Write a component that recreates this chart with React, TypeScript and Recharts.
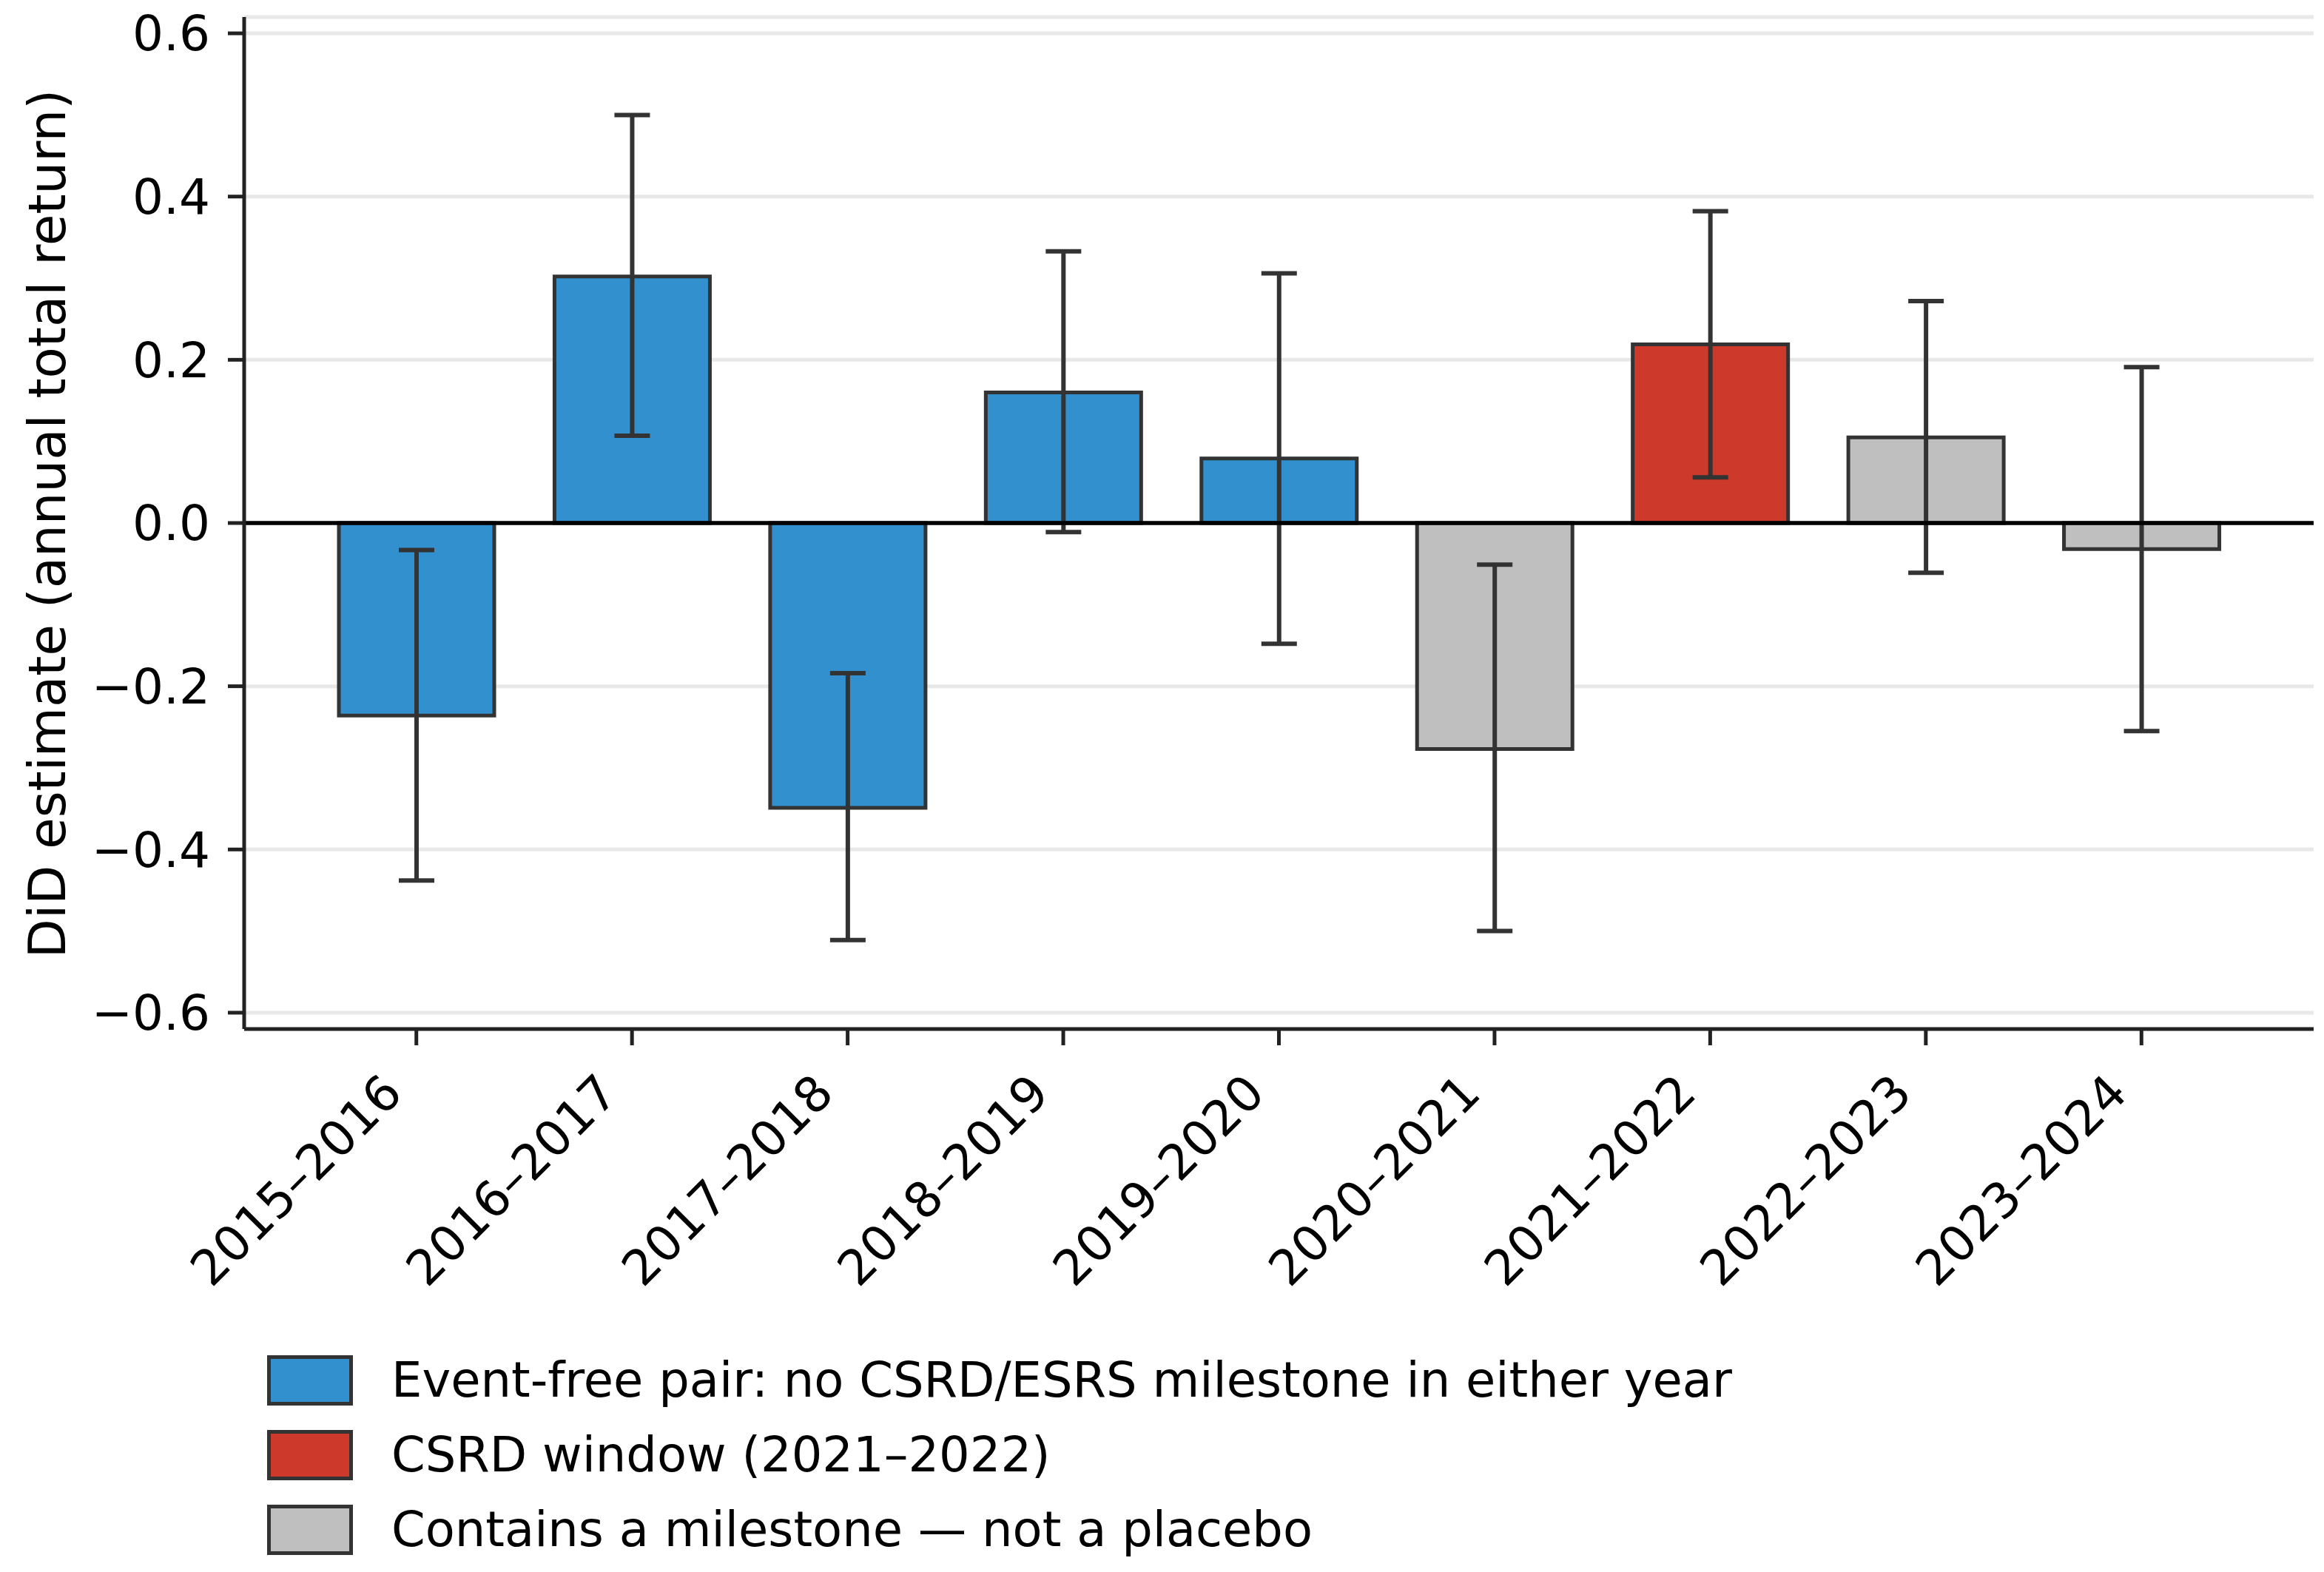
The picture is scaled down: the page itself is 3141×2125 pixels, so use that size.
import { Bar, BarChart, CartesianGrid, Cell, ErrorBar, Label, ReferenceLine, XAxis, YAxis } from 'recharts';

const FONT = '"DejaVu Sans", sans-serif';
const INK = '#333333';

const periods = ['2015–2016', '2016–2017', '2017–2018', '2018–2019', '2019–2020', '2020–2021', '2021–2022', '2022–2023', '2023–2024'];
const estimates = [-0.236, 0.302, -0.349, 0.16, 0.079, -0.277, 0.219, 0.105, -0.032];
const ciLow = [-0.438, 0.107, -0.511, -0.011, -0.148, -0.5, 0.056, -0.061, -0.255];
const ciHigh = [-0.033, 0.5, -0.184, 0.333, 0.306, -0.051, 0.382, 0.272, 0.191];
const groups = ['free', 'free', 'free', 'free', 'free', 'milestone', 'csrd', 'milestone', 'milestone'];
const yTicks = [-0.6, -0.4, -0.2, 0, 0.2, 0.4, 0.6];

const groupColor: Record<string, string> = {
  free: '#3190CD',
  csrd: '#CD3A2C',
  milestone: '#BFBFBF',
};

const legendItems = [
  { key: 'free', label: 'Event-free pair: no CSRD/ESRS milestone in either year' },
  { key: 'csrd', label: 'CSRD window (2021–2022)' },
  { key: 'milestone', label: 'Contains a milestone — not a placebo' },
];

const data = periods.map((p, i) => ({
  period: p,
  value: estimates[i],
  group: groups[i],
  err: [estimates[i] - ciLow[i], ciHigh[i] - estimates[i]],
}));

function SlantTick({ x, y, payload }: any) {
  const ax = x - 16;
  const ay = y + 68;
  return (
    <text
      x={ax}
      y={ay}
      textAnchor="end"
      transform={`rotate(-45 ${ax} ${ay})`}
      fontSize={66}
      fontFamily={FONT}
      fill="#000"
    >
      {payload.value}
    </text>
  );
}

function YTitle() {
  return (
    <text
      x={88}
      y={708}
      transform="rotate(-90 88 708)"
      textAnchor="middle"
      fontSize={69}
      fontFamily={FONT}
      fill="#000"
    >
      DiD estimate (annual total return)
    </text>
  );
}

export default function App() {
  return (
    <div style={{ position: 'relative', width: 3141, height: 2125, background: '#fff', fontFamily: FONT }}>
      <style>{'body{margin:0}'}</style>
      <BarChart width={3141} height={1760} data={data} margin={{ top: 23, right: 14, left: 0, bottom: 0 }}>
        <CartesianGrid vertical={false} stroke="#E8E8E8" strokeWidth={5} />
        <XAxis
          dataKey="period"
          height={369}
          padding={{ left: 87, right: 87 }}
          interval={0}
          tickSize={22}
          tickMargin={0}
          tick={<SlantTick />}
          axisLine={{ stroke: '#222', strokeWidth: 5 }}
          tickLine={{ stroke: '#222', strokeWidth: 5 }}
        />
        <YAxis
          width={330}
          domain={[-0.62, 0.62]}
          ticks={yTicks}
          allowDataOverflow
          tickSize={22}
          tickMargin={24}
          tickFormatter={(v: number) => v.toFixed(1).replace('-', '\u2212')}
          tick={{ fontSize: 66, fontFamily: FONT, fill: '#000' }}
          axisLine={{ stroke: '#222', strokeWidth: 5 }}
          tickLine={{ stroke: '#222', strokeWidth: 5 }}
        >
          <Label content={() => <YTitle />} />
        </YAxis>
        <Bar dataKey="value" barSize={210} stroke={INK} strokeWidth={5} isAnimationActive={false}>
          {data.map((d) => (
            <Cell key={d.period} fill={groupColor[d.group]} />
          ))}
          <ErrorBar dataKey="err" width={24} stroke={INK} strokeWidth={6} isAnimationActive={false} />
        </Bar>
        <ReferenceLine y={0} stroke="#000" strokeWidth={5.5} />
      </BarChart>

      <div style={{ position: 'absolute', left: 361, top: 1832 }}>
        {legendItems.map((it) => (
          <div key={it.key} style={{ display: 'flex', alignItems: 'center', height: 68, marginBottom: 33 }}>
            <div
              style={{
                boxSizing: 'border-box',
                width: 116,
                height: 68,
                background: groupColor[it.key],
                border: `5px solid ${INK}`,
              }}
            />
            <span style={{ marginLeft: 52, fontSize: 65.5, color: '#000', whiteSpace: 'nowrap', lineHeight: 1 }}>
              {it.label}
            </span>
          </div>
        ))}
      </div>
    </div>
  );
}
